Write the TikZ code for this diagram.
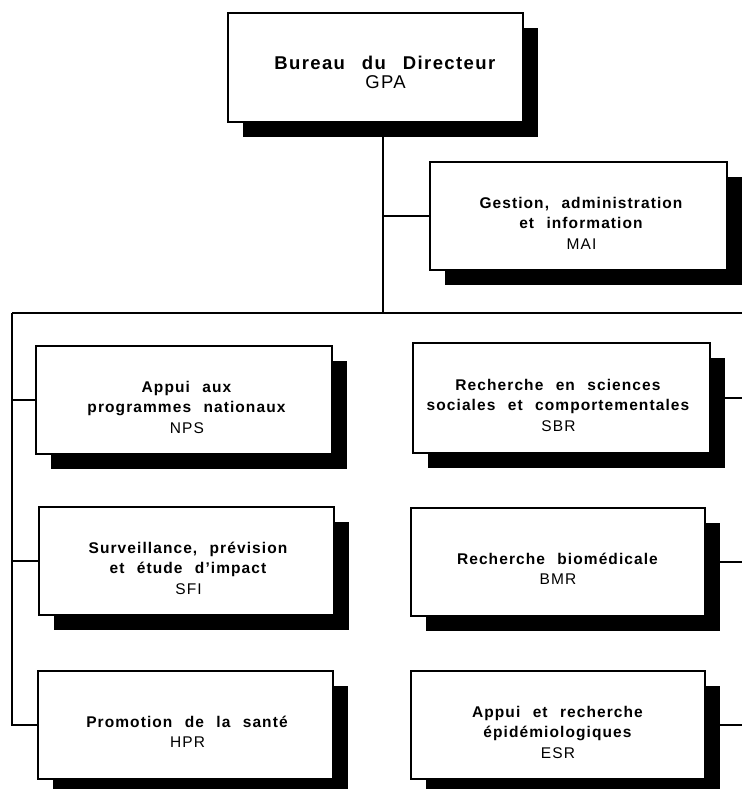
\documentclass[tikz,border=0pt]{standalone}
\usepackage{fontspec}
\setmainfont{Liberation Sans}[LetterSpace=7, WordSpace=2.3]
\newfontfamily\topfont{Liberation Sans}[LetterSpace=7.5, WordSpace=2.6]
\usetikzlibrary{shadows}
\begin{document}
\begin{tikzpicture}[x=1pt,y=-1pt,line width=1.4pt,
  box/.style={draw, fill=white, line width=1.4pt, inner sep=0pt,
    general shadow={fill=black, shadow xshift=15pt, shadow yshift=-15pt}},
  txt/.style={align=center, inner sep=0pt, yshift=-7pt, font=\fontsize{15.5}{20.5}\selectfont},
  bigtxt/.style={align=center, inner sep=0pt, yshift=-5pt, xshift=10pt, font=\topfont\fontsize{18.5}{19}\selectfont},
  conn/.style={draw, line width=1.4pt}]
\useasboundingbox (0,0) rectangle (742,789);
% boxes
\node[box, minimum width=295pt, minimum height=109pt,
  label={[bigtxt]center:{\textbf{Bureau du Directeur}\\GPA}}] (gpa) at (375.5,67.5) {};
\node[box, minimum width=297pt, minimum height=108pt,
  label={[txt, xshift=3pt]center:{\textbf{Gestion, administration}\\\textbf{et information}\\MAI}}] (mai) at (578.5,216) {};
\node[box, minimum width=296pt, minimum height=108pt,
  label={[txt, xshift=3pt]center:{\textbf{Appui aux}\\\textbf{programmes nationaux}\\NPS}}] (nps) at (184,400) {};
\node[box, minimum width=295pt, minimum height=108pt,
  label={[txt, xshift=2pt]center:{\textbf{Surveillance, prévision}\\\textbf{et étude d'impact}\\SFI}}] (sfi) at (186.5,561) {};
\node[box, minimum width=295pt, minimum height=108pt,
  label={[txt, xshift=2pt]center:{\textbf{Promotion de la santé}\\HPR}}] (hpr) at (185.5,725) {};
\node[box, minimum width=297pt, minimum height=110pt,
  label={[txt, xshift=-3pt]center:{\textbf{Recherche en sciences}\\\textbf{sociales et comportementales}\\SBR}}] (sbr) at (561.5,398) {};
\node[box, minimum width=294pt, minimum height=108pt,
  label={[txt]center:{\textbf{Recherche biomédicale}\\BMR}}] (bmr) at (558,562) {};
\node[box, minimum width=294pt, minimum height=108pt,
  label={[txt]center:{\textbf{Appui et recherche}\\\textbf{épidémiologiques}\\ESR}}] (esr) at (558,725) {};
% bus coordinates
\coordinate (bus) at (383,313);
\coordinate (busL) at (12,313);
\coordinate (busR) at (742,313);
% connectors
\path[conn] (busL) -- (busR);
\path[conn] (gpa.south -| bus) -- (bus);
\path[conn] (mai.west) -- (mai.west -| bus);
\path[conn] (busL) |- (hpr.west);
\path[conn] (nps.west) -- (nps.west -| busL);
\path[conn] (sfi.west) -- (sfi.west -| busL);
\path[conn] (sbr.east) -- (sbr.east -| busR);
\path[conn] (bmr.east) -- (bmr.east -| busR);
\path[conn] (esr.east) -- (esr.east -| busR);
\end{tikzpicture}
\end{document}
